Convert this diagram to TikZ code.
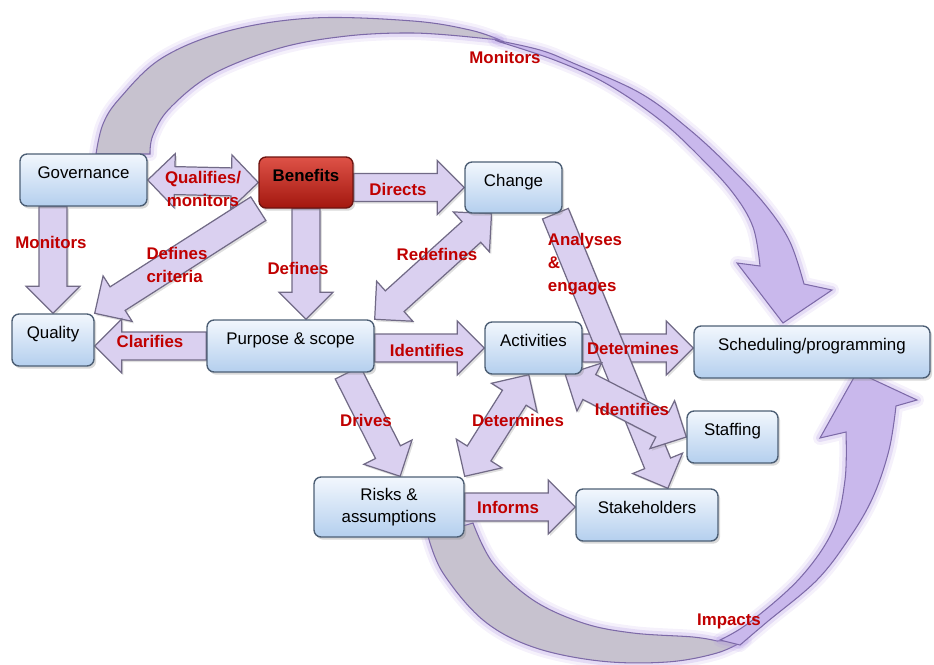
\documentclass[tikz,border=0pt]{standalone}
\usepackage{fontspec}
\setmainfont{Liberation Sans}
\usetikzlibrary{calc,shadows,backgrounds}

\definecolor{boxtop}{HTML}{F2F7FD}
\definecolor{boxbot}{HTML}{B4CFEE}
\definecolor{boxedge}{HTML}{4D5F75}
\definecolor{bentop}{HTML}{DE5247}
\definecolor{benbot}{HTML}{A3170F}
\definecolor{benedge}{HTML}{6E1410}
\definecolor{arrfill}{HTML}{DAD0F0}
\definecolor{arredge}{HTML}{716A86}
\definecolor{bigfill}{HTML}{C9B8EC}
\definecolor{bigedge}{HTML}{7D6AA8}
\definecolor{bigglow}{HTML}{A98CE0}
\definecolor{backfill}{HTML}{C7C2CF}
\definecolor{labred}{HTML}{C00000}

\newcommand{\arrshaft}{0.28cm}
\newcommand{\arrheadw}{0.54cm}
\newcommand{\arrheadl}{0.54cm}

\tikzset{
  boxbase/.style={rectangle, rounded corners=4pt, draw=boxedge, line width=0.8pt,
    top color=boxtop, bottom color=boxbot, align=center,
    drop shadow={opacity=0.3, shadow xshift=1.2pt, shadow yshift=-1.5pt},
    font=\fontsize{9.6}{12.5}\selectfont},
  box/.style={boxbase, text height=7pt, text depth=8.5pt},
  lbl/.style={text=labred, font=\bfseries\fontsize{9.6}{13}\selectfont, inner sep=0pt, align=center},
  big/.style={fill=bigfill, draw=bigedge, line width=0.6pt,
    preaction={draw=bigglow, line width=8pt, opacity=0.12, line join=round},
    preaction={draw=bigglow, line width=4.5pt, opacity=0.22, line join=round}},
  fat/.style={fill=arrfill, draw=arredge, line width=0.7pt,
    drop shadow={opacity=0.25, shadow xshift=1pt, shadow yshift=-1.2pt},
    to path={let \p1=(\tikztostart), \p2=(\tikztotarget),
      \n1={atan2(\y2-\y1,\x2-\x1)}, \n2={veclen(\x2-\x1,\y2-\y1)} in
      ($(\p1)+(\n1-90:\arrshaft)$)
      -- ($(\p1)+(\n1:\n2-\arrheadl)+(\n1-90:\arrshaft)$)
      -- ($(\p1)+(\n1:\n2-\arrheadl)+(\n1-90:\arrheadw)$)
      -- (\p2)
      -- ($(\p1)+(\n1:\n2-\arrheadl)+(\n1+90:\arrheadw)$)
      -- ($(\p1)+(\n1:\n2-\arrheadl)+(\n1+90:\arrshaft)$)
      -- ($(\p1)+(\n1+90:\arrshaft)$) -- cycle}},
  fatboth/.style={fill=arrfill, draw=arredge, line width=0.7pt,
    drop shadow={opacity=0.25, shadow xshift=1pt, shadow yshift=-1.2pt},
    to path={let \p1=(\tikztostart), \p2=(\tikztotarget),
      \n1={atan2(\y2-\y1,\x2-\x1)}, \n2={veclen(\x2-\x1,\y2-\y1)} in
      (\p1)
      -- ($(\p1)+(\n1:\arrheadl)+(\n1-90:\arrheadw)$)
      -- ($(\p1)+(\n1:\arrheadl)+(\n1-90:\arrshaft)$)
      -- ($(\p1)+(\n1:\n2-\arrheadl)+(\n1-90:\arrshaft)$)
      -- ($(\p1)+(\n1:\n2-\arrheadl)+(\n1-90:\arrheadw)$)
      -- (\p2)
      -- ($(\p1)+(\n1:\n2-\arrheadl)+(\n1+90:\arrheadw)$)
      -- ($(\p1)+(\n1:\n2-\arrheadl)+(\n1+90:\arrshaft)$)
      -- ($(\p1)+(\n1:\arrheadl)+(\n1+90:\arrshaft)$)
      -- ($(\p1)+(\n1:\arrheadl)+(\n1+90:\arrheadw)$) -- cycle}},
}

\begin{document}
\begin{tikzpicture}[x=0.02cm, y=-0.02cm]
  \useasboundingbox (0,0) rectangle (934,664);

  % boxes
  \node[box, minimum width=2.54cm, minimum height=1.04cm] (gov) at (83.5,180) {Governance};
  \node[box, minimum width=1.88cm, minimum height=1.02cm, top color=bentop, bottom color=benbot,
    draw=benedge, font=\bfseries\fontsize{9.6}{12.5}\selectfont] (ben) at (306,182.5) {Benefits};
  \node[box, minimum width=1.94cm, minimum height=1.02cm] (chg) at (513.5,187.5) {Change};
  \node[box, minimum width=1.64cm, minimum height=1.04cm] (qual) at (53,340) {Quality};
  \node[box, minimum width=3.34cm, minimum height=1.04cm] (purp) at (290.5,346) {Purpose \& scope};
  \node[box, minimum width=1.94cm, minimum height=1.04cm] (act) at (533.5,348) {Activities};
  \node[box, minimum width=4.72cm, minimum height=1.04cm] (sched) at (812,352) {Scheduling/programming};
  \node[box, minimum width=1.82cm, minimum height=1.04cm] (staff) at (732.5,437) {Staffing};
  \node[boxbase, minimum width=3cm, minimum height=1.2cm] (risk) at (389,507) {Risks \&\\assumptions};
  \node[box, minimum width=2.84cm, minimum height=1.04cm] (stake) at (647,515) {Stakeholders};

  \begin{scope}[on background layer]
    % Governance monitors scheduling
    \fill[big, fill=backfill] plot[smooth, tension=0.6] coordinates {(96,154) (103,124) (120,98) (162,58)
      (228,31) (313,18) (413,21) (470,30) (500,40)}
      -- plot[smooth, tension=0.6] coordinates {(470,37) (413,33) (347,36) (280,48) (213,74) (170,108)
      (153,135) (150,154)} -- cycle;
    \fill[big] plot[smooth, tension=0.6] coordinates {(495,40) (540,50) (573,63) (640,93) (690,130)
      (733,170) (767,207) (790,242) (804,284)} -- (832,290) -- (783,323) -- (737,263)
      -- plot[smooth, tension=0.6] coordinates {(760,266) (753,227) (733,193) (700,157) (660,120)
      (607,84) (557,61) (500,42)} -- cycle;
    % risks impact scheduling
    \fill[big, fill=backfill] plot[smooth, tension=0.6] coordinates {(428,536) (443,573) (483,620)
      (533,647) (600,661) (667,662) (717,653) (745,640)}
      -- plot[smooth, tension=0.6] coordinates {(717,641) (693,637) (633,633) (583,623) (533,600)
      (493,563) (473,523)} -- cycle;
    \fill[big] plot[smooth, tension=0.6] coordinates {(740,645) (767,622) (817,580) (850,537)
      (873,497) (889,450) (896,406)} -- (917,400) -- (857,372) -- (820,438)
      -- plot[smooth, tension=0.6] coordinates {(846,432) (845,480) (833,530) (800,578) (750,622)
      (720,640)} -- cycle;

    \draw[fatboth] (gov.east) to (ben.west);
    \draw[fat] (ben.east |- chg.west) to (chg.west);
    \draw[fat] (gov.south -| qual.north) to (qual.north);
    \draw[fat] (ben.south west) to (qual.north east);
    \draw[fat] (ben.south) to (ben.south |- purp.north);
    \draw[fatboth] (purp.north east) to (chg.-130);
    \draw[fat] (purp.west) to (purp.west -| qual.east);
    \draw[fat] (act.west -| purp.east) to (act.west);
    \draw[fat] (act.east) to (act.east -| sched.west);
    \draw[fat] (purp.-25) to (risk.70);
    \draw[fatboth] (risk.north east) to (act.-100);
    \draw[fat] (risk.east) to (risk.east -| stake.west);
    \draw[fat] (chg.-32) to (stake.52);
    \draw[fatboth] (act.-40) to (staff.west);
  \end{scope}

  % labels
  \node[lbl] (lqual) at (203,189) {Qualifies/\\monitors};
  \node[lbl] (ldir) at (398,189) {Directs};
  \node[lbl] (lmon) at (51,242) {Monitors};
  \node[lbl, align=left] (lcrit) at (177,265) {Defines\\criteria};
  \node[lbl] (ldef) at (298,268) {Defines};
  \node[lbl] (lredef) at (437,254) {Redefines};
  \node[lbl] (lclar) at (150,341) {Clarifies};
  \node[lbl] (lident) at (427,350) {Identifies};
  \node[lbl] (ldet) at (633,348) {Determines};
  \node[lbl, align=left] (lanal) at (585,264) {Analyses\\\&\\engages};
  \node[lbl] (lstaff) at (632,409) {Identifies};
  \node[lbl] (ldrive) at (366,420) {Drives};
  \node[lbl] (lrisk) at (518,420) {Determines};
  \node[lbl] (linf) at (508,507) {Informs};
  \node[lbl] (ltop) at (505,57) {Monitors};
  \node[lbl] (limp) at (729,621) {Impacts};
\end{tikzpicture}
\end{document}
